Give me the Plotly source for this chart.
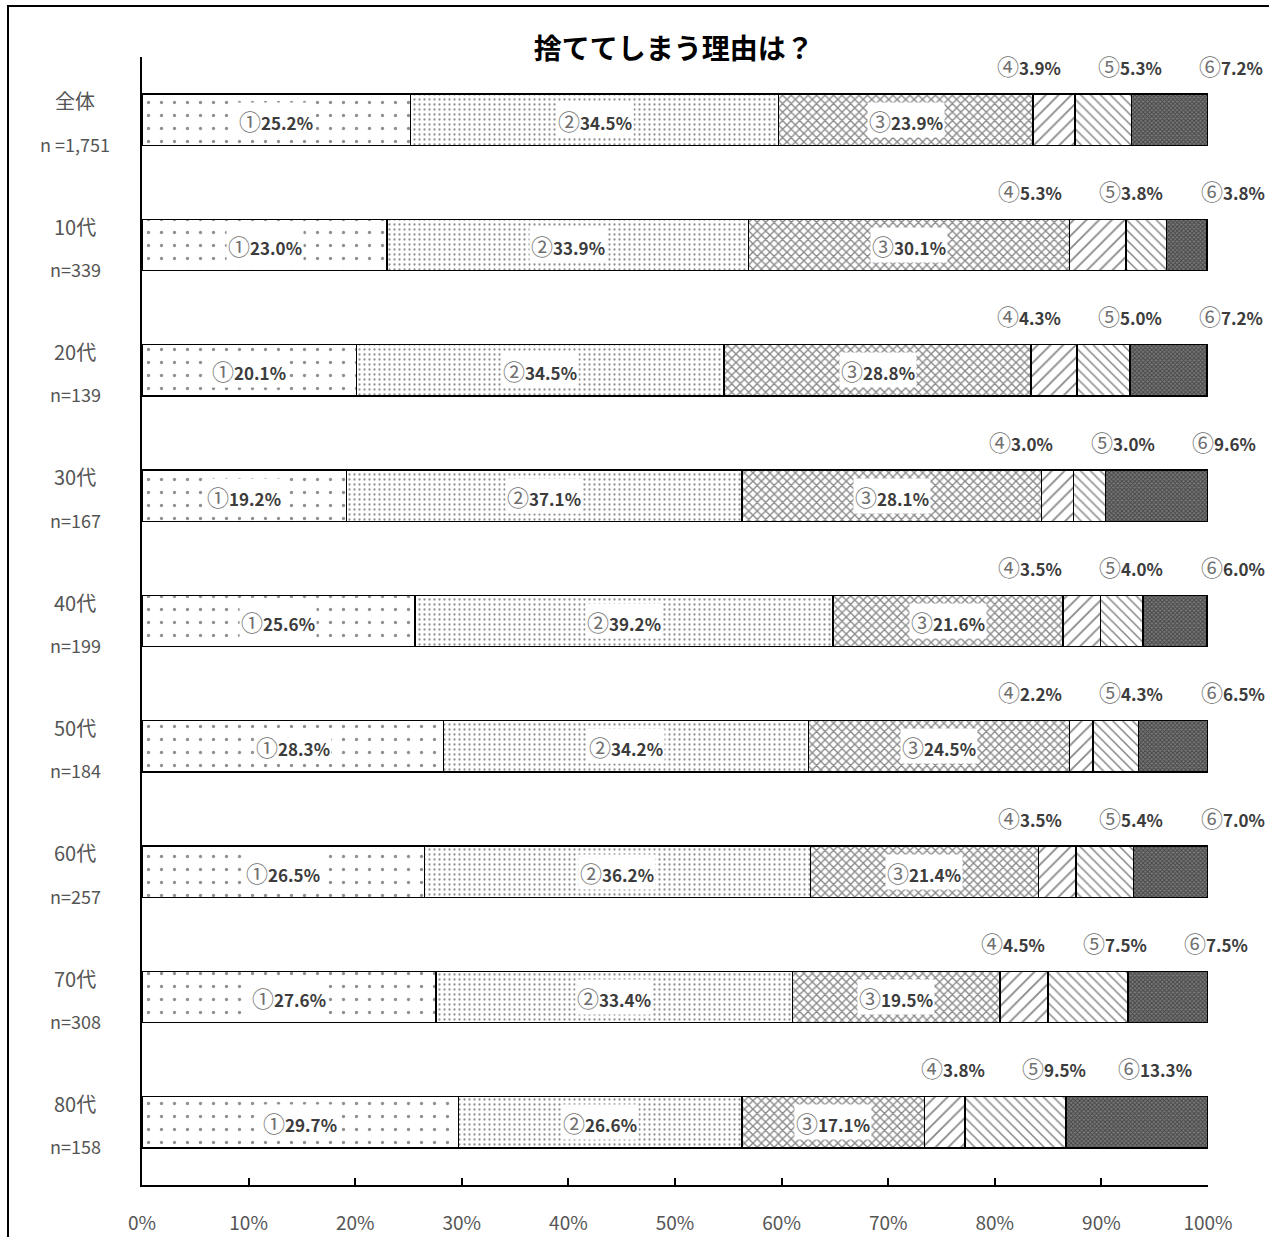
import plotly.graph_objects as go

# Survey: reasons for throwing things away, by age group (share of answers, %)
categories = ["全体", "10代", "20代", "30代", "40代", "50代", "60代", "70代", "80代"]
sample_sizes = ["n =1,751", "n=339", "n=139", "n=167", "n=199", "n=184", "n=257", "n=308", "n=158"]
reason_marks = ["①", "②", "③", "④", "⑤", "⑥"]

reason1 = [25.2, 23.0, 20.1, 19.2, 25.6, 28.3, 26.5, 27.6, 29.7]
reason2 = [34.5, 33.9, 34.5, 37.1, 39.2, 34.2, 36.2, 33.4, 26.6]
reason3 = [23.9, 30.1, 28.8, 28.1, 21.6, 24.5, 21.4, 19.5, 17.1]
reason4 = [3.9, 5.3, 4.3, 3.0, 3.5, 2.2, 3.5, 4.5, 3.8]
reason5 = [5.3, 3.8, 5.0, 3.0, 4.0, 4.3, 5.4, 7.5, 9.5]
reason6 = [7.2, 3.8, 7.2, 9.6, 6.0, 6.5, 7.0, 7.5, 13.3]

x_ticks = [0, 10, 20, 30, 40, 50, 60, 70, 80, 90, 100]

series = [reason1, reason2, reason3, reason4, reason5, reason6]

# Figure geometry (pixels)
W, H = 1269, 1237
M_L, M_R, M_T, M_B = 142, 61, 57, 52
PW, PH = W - M_L - M_R, H - M_T - M_B

def px_x(px):
    return (px - M_L) / PW

def px_y(py):
    return (H - M_B - py) / PH

FONT = "Noto Sans CJK JP"
TXT = "#3c3c3c"

patterns = [
    dict(shape=".", fgcolor="#222", bgcolor="white", size=13, solidity=0.05),
    dict(shape=".", fgcolor="#222", bgcolor="white", size=5, solidity=0.16),
    dict(shape="x", fgcolor="#111", bgcolor="white", size=6, solidity=0.4),
    dict(shape="/", fgcolor="#111", bgcolor="white", size=9, solidity=0.2),
    dict(shape="\\", fgcolor="#111", bgcolor="white", size=7, solidity=0.22),
    dict(shape="x", fgcolor="#111", bgcolor="#7a7a7a", size=3, solidity=0.55),
]


def label(i, v):
    return (f"<span style=\"font-size:22px;color:#707070\">"
            f"{reason_marks[i]}</span><b>{v:.1f}%</b>")


fig = go.Figure()
for i, vals in enumerate(series):
    fig.add_trace(go.Bar(
        x=vals, y=categories, orientation="h",
        marker=dict(color="white", pattern=patterns[i],
                    line=dict(color="black", width=1.5)),
        showlegend=False, hoverinfo="skip",
    ))

annotations = []
for j, cat in enumerate(categories):
    cum = [0.0]
    for vals in series:
        cum.append(cum[-1] + vals[j])
    # labels inside the three larger segments
    for i in range(3):
        annotations.append(dict(
            x=cum[i] + series[i][j] / 2, y=cat, xref="x", yref="y",
            text=label(i, series[i][j]),
            showarrow=False, bgcolor="white", borderpad=1,
            font=dict(family=FONT, size=17, color=TXT),
        ))
    # labels above the three small segments, spread apart around their centres
    centres = [cum[i] + series[i][j] / 2 for i in range(3, 6)]
    mid = min(sum(centres) / 3 + 2.0, 102.3 - 9.5)
    for k, i in enumerate(range(3, 6)):
        annotations.append(dict(
            x=(mid + (k - 1) * 9.5) / 100, y=cat, xref="paper", yref="y",
            xanchor="center", yshift=55,
            text=label(i, series[i][j]),
            showarrow=False,
            font=dict(family=FONT, size=17, color=TXT),
        ))
    # category name and sample size
    annotations.append(dict(
        x=px_x(75), y=cat, xref="paper", yref="y", xanchor="center", yshift=19,
        text=cat, showarrow=False,
        font=dict(family=FONT, size=20, color="#555"),
    ))
    annotations.append(dict(
        x=px_x(75), y=cat, xref="paper", yref="y", xanchor="center", yshift=-24,
        text=sample_sizes[j], showarrow=False,
        font=dict(family=FONT, size=18, color="#555"),
    ))

fig.update_layout(
    width=W, height=H,
    margin=dict(l=M_L, r=M_R, t=M_T, b=M_B),
    paper_bgcolor="white", plot_bgcolor="white",
    barmode="stack", bargap=0.59,
    title=dict(text="<b>捨ててしまう理由は？</b>", x=633 / W, y=1 - 49 / H,
               xanchor="center", yanchor="middle", xref="paper",
               font=dict(family=FONT, size=28, color="black")),
    annotations=annotations,
    shapes=[dict(type="rect", xref="paper", yref="paper",
                 x0=px_x(8), y0=px_y(1260), x1=px_x(1290), y1=px_y(6),
                 line=dict(color="black", width=2), fillcolor="rgba(0,0,0,0)",
                 layer="below")],
)
fig.update_xaxes(
    range=[0, 100], tickvals=x_ticks, ticktext=[f"{v}%" for v in x_ticks],
    ticks="inside", ticklen=7, tickcolor="black", tickwidth=1.5,
    showline=True, linecolor="black", linewidth=1.5, showgrid=False,
    zeroline=False, ticklabelstandoff=20, automargin=False,
    tickfont=dict(family=FONT, size=19, color="#555"),
)
fig.update_yaxes(
    range=[len(categories) - 0.5, -0.5], showticklabels=False, showline=True,
    linecolor="black", linewidth=1.5, showgrid=False, ticks="",
    automargin=False,
)

fig.write_html("out.html")
